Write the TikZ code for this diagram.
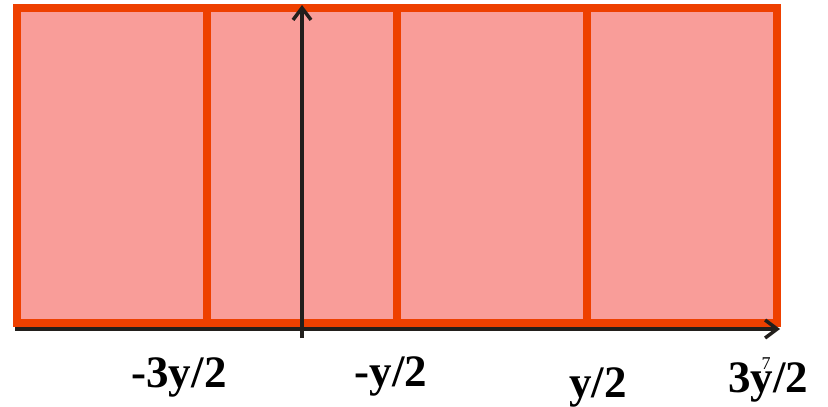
\documentclass[tikz,border=0pt]{standalone}
\usepackage{fontspec}
\setmainfont{Liberation Serif}
\usetikzlibrary{arrows.meta}
\definecolor{cellfill}{RGB}{249,157,153}
\definecolor{cellline}{RGB}{238,64,0}
\definecolor{axisline}{RGB}{34,31,28}
\tikzset{
  cellborder/.style={draw=cellline, line width=7.5pt},
  axis/.style={draw=axisline, line width=3.8pt, -{Straight Barb[length=12pt,width=18pt,line width=3.5pt]}},
  lbl/.style={anchor=base, font=\bfseries\fontsize{45}{45}\selectfont, inner sep=0pt},
  tiny/.style={anchor=base, font=\fontsize{18}{18}\selectfont, inner sep=0pt}
}
\begin{document}
\begin{tikzpicture}[x=1pt,y=-1pt]
\useasboundingbox (0,0) rectangle (828,407);
% corners
\coordinate (tl) at (17,8);
\coordinate (br) at (777,323);
\coordinate (t1) at (207,8); \coordinate (b1) at (207,323);
\coordinate (t2) at (397,8); \coordinate (b2) at (397,323);
\coordinate (t3) at (587,8); \coordinate (b3) at (587,323);
\fill[cellfill] (tl) rectangle (br);
\draw[cellborder] (t1) -- (b1);
\draw[cellborder] (t2) -- (b2);
\draw[cellborder] (t3) -- (b3);
\draw[cellborder] (tl) rectangle (br);
% axes
\coordinate (xs) at (15,329);
\coordinate (xe) at (780,329);
\coordinate (ys) at (302,338);
\coordinate (ye) at (302,5);
\draw[axis] (xs) -- (xe);
\draw[axis] (ys) -- (ye);
% labels
\node[lbl] (l1) at (179,387) {-3y/2};
\node[lbl] (l2) at (391,386) {-y/2};
\node[lbl] (l3) at (598,397) {y/2};
\node[lbl] (l4) at (768,392) {3y/2};
\node[tiny] (pg) at (766,369) {7};
\end{tikzpicture}
\end{document}
